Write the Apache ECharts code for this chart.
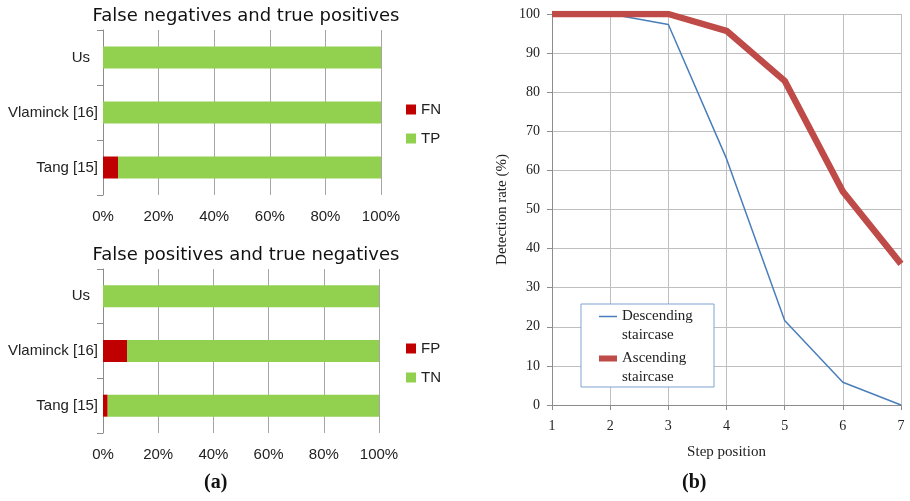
<!DOCTYPE html>
<html><head><meta charset="utf-8">
<script src="https://cdn.jsdelivr.net/npm/echarts@6/dist/echarts.min.js"></script>
<style>html,body{margin:0;padding:0;background:#fff}#c{width:910px;height:501px}</style>
</head><body><div id="c"></div>
<script>
// ---- data ----
var methods = ['Tang [15]', 'Vlaminck [16]', 'Us'];
var fnValues = [5.4, 0, 0];
var tpValues = [94.6, 100, 100];
var fpValues = [1.7, 8.7, 0];
var tnValues = [98.3, 91.3, 100];
var pctTicks = ['0%', '20%', '40%', '60%', '80%', '100%'];
var stepPositions = [1, 2, 3, 4, 5, 6, 7];
var descending = [100, 100, 97.3, 63, 21.6, 5.8, 0];
var ascending = [100, 100, 100, 95.7, 82.9, 54.6, 36.1];

var sans = 'Liberation Sans';
var serif = 'Liberation Serif';
var gridGray = '#a6a6a6';

function pairs(xs, ys) { return xs.map(function (x, i) { return [x, ys[i]]; }); }

function barX(gi) {
  return {
    type: 'value', gridIndex: gi, min: 0, max: 100, interval: 20,
    axisLine: { show: false }, axisTick: { show: false },
    splitLine: { show: true, lineStyle: { color: gridGray, width: 1 } },
    axisLabel: { color: '#222', fontFamily: sans, fontSize: 15, margin: 14,
      formatter: function (v) { return pctTicks[Math.round(v / 20)]; } }
  };
}
function barY(gi) {
  return {
    type: 'category', gridIndex: gi, data: methods,
    axisLine: { show: true, lineStyle: { color: '#8c8c8c' } },
    axisTick: { show: true, length: 6, lineStyle: { color: '#8c8c8c' } },
    axisLabel: { color: '#222', fontFamily: sans, fontSize: 15, margin: 5,
      formatter: function (v) { return v === 'Us' ? '{u|Us}' : v; },
      rich: { u: { fontFamily: sans, fontSize: 15, color: '#222', padding: [0, 8, 0, 0] } } }
  };
}

var chart = echarts.init(document.getElementById('c'));
chart.setOption({
  backgroundColor: '#fff',
  animation: false,
  title: [
    { text: 'False negatives and true positives', left: 241, textAlign: 'center', top: 2,
      textStyle: { fontFamily: 'DejaVu Sans', fontSize: 18, fontWeight: 'normal', color: '#111' } },
    { text: 'False positives and true negatives', left: 241, textAlign: 'center', top: 241,
      textStyle: { fontFamily: 'DejaVu Sans', fontSize: 18, fontWeight: 'normal', color: '#111' } }
  ],
  grid: [
    { left: 103, top: 30, width: 278, height: 165 },
    { left: 103, top: 269, width: 276, height: 164 },
    { left: 552, top: 14, width: 349, height: 391 }
  ],
  legend: [
    { data: ['FN', 'TP'], orient: 'vertical', left: 401, top: 97, itemWidth: 10, itemHeight: 10, itemGap: 14,
      icon: 'rect', textStyle: { fontFamily: sans, fontSize: 15, color: '#222' } },
    { data: ['FP', 'TN'], orient: 'vertical', left: 401, top: 336, itemWidth: 10, itemHeight: 10, itemGap: 14,
      icon: 'rect', textStyle: { fontFamily: sans, fontSize: 15, color: '#222' } },
    { data: [
        { name: 'Descending staircase', lineStyle: { width: 1.5, color: '#4a7ebb' } },
        { name: 'Ascending staircase', lineStyle: { width: 6, color: '#be4b48' } }
      ],
      orient: 'vertical', left: 596, top: 288,
      itemWidth: 18, itemHeight: 10, itemGap: -15, padding: 0, z: 5,
      itemStyle: { opacity: 0 },
      formatter: function (n) { return '\n' + n.replace(' ', '\n'); },
      textStyle: { fontFamily: serif, fontSize: 15, color: '#222', lineHeight: 19 } }
  ],
  xAxis: [
    barX(0), barX(1),
    { type: 'value', gridIndex: 2, min: 1, max: 7, interval: 1,
      name: 'Step position', nameLocation: 'middle', nameGap: 40,
      nameTextStyle: { fontFamily: serif, fontSize: 15, color: '#222' },
      axisLine: { show: true, lineStyle: { color: '#8c8c8c' } },
      axisTick: { show: true, length: 5, lineStyle: { color: '#8c8c8c' } },
      splitLine: { show: true, lineStyle: { color: '#bfbfbf' } },
      axisLabel: { fontFamily: serif, fontSize: 14, color: '#222', margin: 14 } }
  ],
  yAxis: [
    barY(0), barY(1),
    { type: 'value', gridIndex: 2, min: 0, max: 100, interval: 10,
      name: 'Detection rate (%)', nameLocation: 'middle', nameGap: 42, nameRotate: 90,
      nameTextStyle: { fontFamily: serif, fontSize: 15, color: '#222' },
      axisLine: { show: true, lineStyle: { color: '#8c8c8c' } },
      axisTick: { show: true, length: 5, lineStyle: { color: '#8c8c8c' } },
      splitLine: { show: true, lineStyle: { color: '#bfbfbf' } },
      axisLabel: { fontFamily: serif, fontSize: 14, color: '#222', margin: 12 } }
  ],
  series: [
    { name: 'FN', type: 'bar', stack: 'a', xAxisIndex: 0, yAxisIndex: 0, barWidth: 22,
      data: fnValues, itemStyle: { color: '#c00000' } },
    { name: 'TP', type: 'bar', stack: 'a', xAxisIndex: 0, yAxisIndex: 0, barWidth: 22,
      data: tpValues, itemStyle: { color: '#92d050' } },
    { name: 'FP', type: 'bar', stack: 'b', xAxisIndex: 1, yAxisIndex: 1, barWidth: 22,
      data: fpValues, itemStyle: { color: '#c00000' } },
    { name: 'TN', type: 'bar', stack: 'b', xAxisIndex: 1, yAxisIndex: 1, barWidth: 22,
      data: tnValues, itemStyle: { color: '#92d050' } },
    { name: 'Descending staircase', type: 'line', xAxisIndex: 2, yAxisIndex: 2, symbol: 'none',
      data: pairs(stepPositions, descending), lineStyle: { color: '#4a7ebb', width: 1.5 }, itemStyle: { color: '#4a7ebb' } },
    { name: 'Ascending staircase', type: 'line', xAxisIndex: 2, yAxisIndex: 2, symbol: 'none',
      data: pairs(stepPositions, ascending), lineStyle: { color: '#be4b48', width: 6.5 }, itemStyle: { color: '#be4b48' } }
  ],
  graphic: [
    { type: 'rect', z: 3, shape: { x: 581, y: 304, width: 133, height: 83 },
      style: { fill: '#fff', stroke: '#7fa3d2', lineWidth: 1 } },
    { type: 'text', left: 204, top: 473, style: { text: '(a)', fontFamily: serif, fontSize: 20, fontWeight: 'bold', fill: '#111' } },
    { type: 'text', left: 682, top: 473, style: { text: '(b)', fontFamily: serif, fontSize: 20, fontWeight: 'bold', fill: '#111' } }
  ]
});
</script></body></html>
